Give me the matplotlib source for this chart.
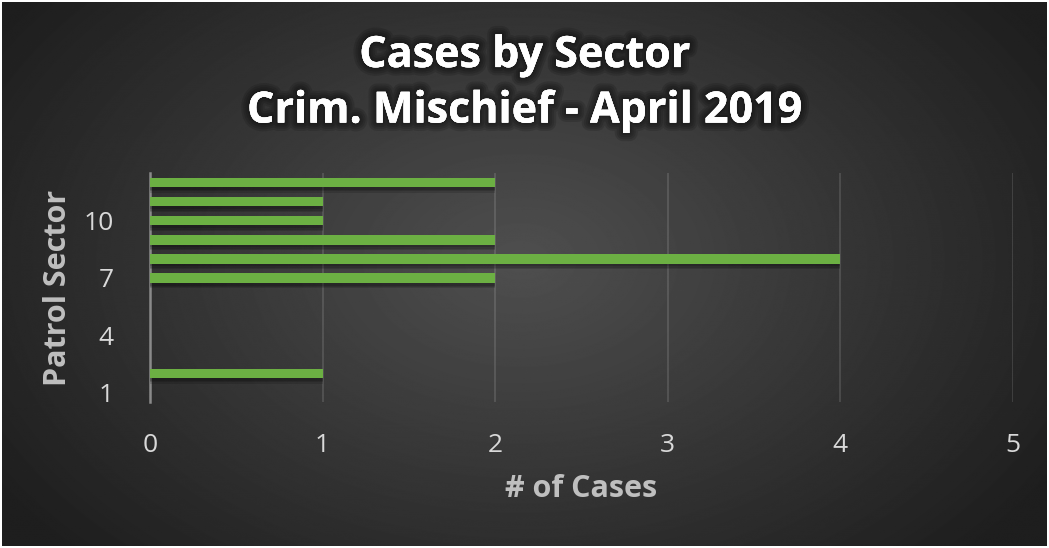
import matplotlib.pyplot as plt
import matplotlib.patheffects as pe
import numpy as np

# data
sectors = [1, 2, 3, 4, 5, 6, 7, 8, 9, 10, 11, 12]
cases = [0, 1, 0, 0, 0, 0, 2, 4, 2, 1, 1, 2]
y_ticks = [1, 4, 7, 10]
x_ticks = [0, 1, 2, 3, 4, 5]

title = "Cases by Sector\nCrim. Mischief - April 2019"

plt.rcParams['font.family'] = ['Open Sans', 'DejaVu Sans']

fig = plt.figure(figsize=(10.49, 5.48), dpi=100)
fig.patch.set_facecolor('white')

# radial gradient background
bg = fig.add_axes([0.002, 0.004, 0.996, 0.992], zorder=-10)
yy, xx = np.mgrid[0:548, 0:1049]
r = np.sqrt(((xx - 520) / 620.0) ** 2 + ((yy - 260) / 420.0) ** 2)
shade = np.clip(0.31 - 0.19 * r, 0.12, 0.31)
bg.imshow(shade, cmap='gray', vmin=0, vmax=1, aspect='auto', interpolation='bilinear')
bg.axis('off')

ax = fig.add_axes([150 / 1049, (548 - 402) / 548, (1013 - 150) / 1049, (402 - 173) / 548])
ax.patch.set_alpha(0)

# soft shadow under each bar
shadow = [pe.SimplePatchShadow(offset=(0, -k), shadow_rgbFace='black', alpha=0.14)
          for k in (4, 3, 2)]
bars = ax.barh(sectors, cases, height=0.5, color='#6cb043', zorder=3)
for b in bars:
    b.set_path_effects(shadow + [pe.Normal()])

ax.set_xlim(0, 5)
ax.set_ylim(0.5, 12.5)
ax.set_xticks(x_ticks)
ax.set_yticks(y_ticks)
ax.grid(axis='x', color='white', alpha=0.12, linewidth=1.5, zorder=0)
for s in ['top', 'right', 'bottom']:
    ax.spines[s].set_visible(False)
ax.spines['left'].set_color('#8a8a8a')
ax.spines['left'].set_linewidth(1.8)
ax.tick_params(length=0, labelsize=19, colors='#d9d9d9')
ax.tick_params(axis='x', pad=22)
ax.tick_params(axis='y', pad=26)

ax.set_xlabel("# of Cases", fontsize=22, fontweight='bold', color='#bfbfbf', labelpad=12)
ax.set_ylabel("Patrol Sector", fontsize=22, fontweight='bold', color='#bfbfbf', labelpad=8)

# title with a soft dark glow
glow = [pe.withStroke(linewidth=w, foreground='black', alpha=0.13) for w in (12, 9, 6, 3)]
fig.text(0.5, 0.848, title, ha='center', va='center', fontsize=31, fontweight='bold',
         color='white', linespacing=1.38, path_effects=glow + [pe.Normal()])

fig.savefig('out.png', dpi=100, facecolor=fig.get_facecolor())
